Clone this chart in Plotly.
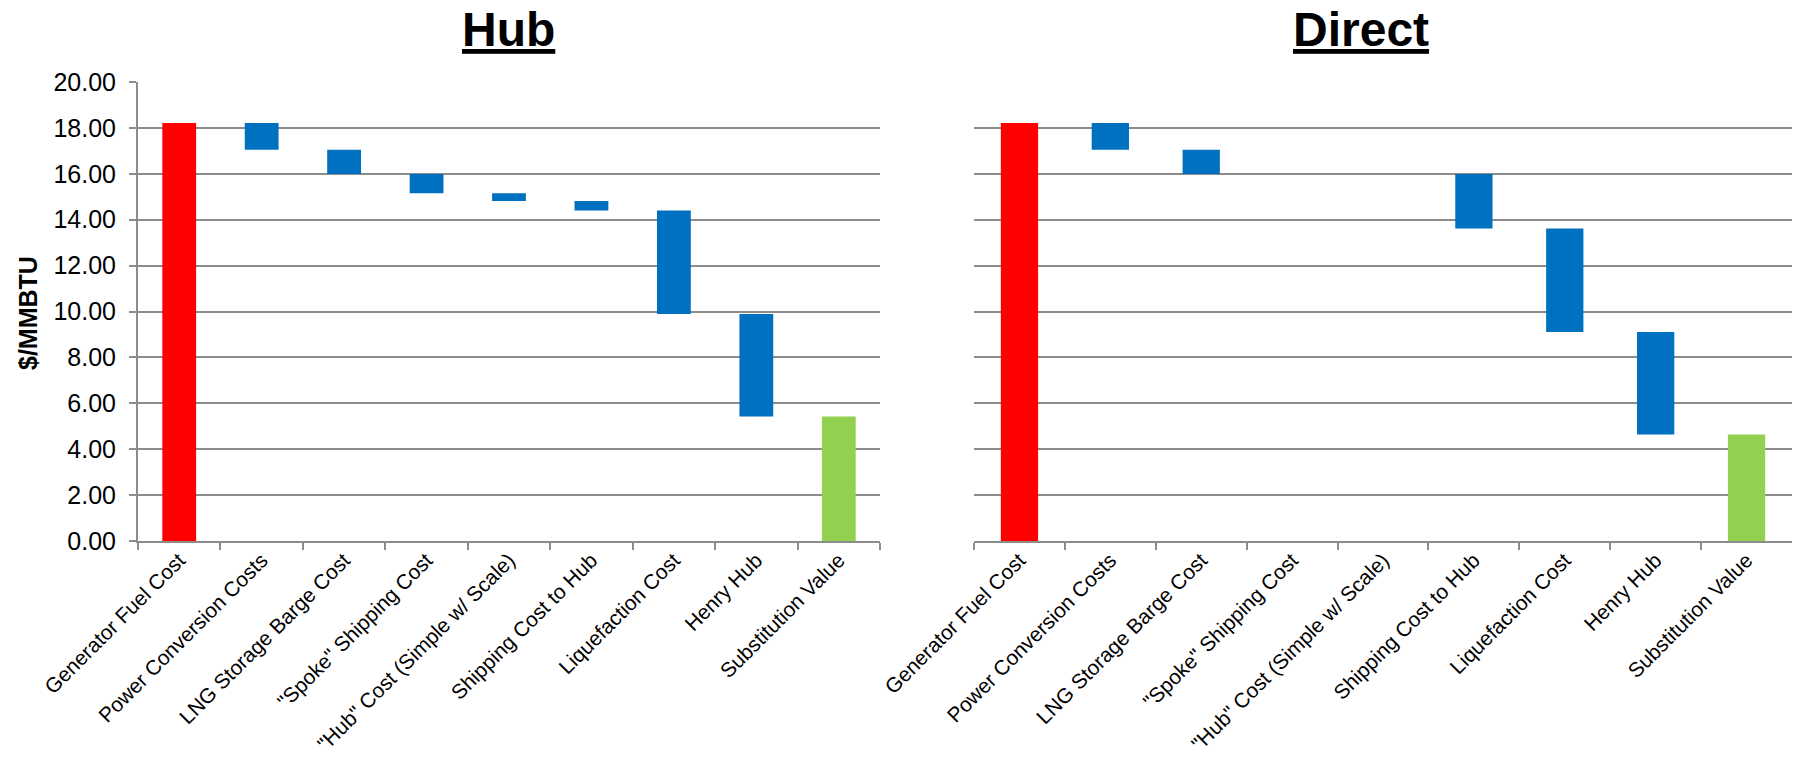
import plotly.graph_objects as go

categories = [
    "Generator Fuel Cost",
    "Power Conversion Costs",
    "LNG Storage Barge Cost",
    "\"Spoke\" Shipping Cost",
    "\"Hub\" Cost (Simple w/ Scale)",
    "Shipping Cost to Hub",
    "Liquefaction Cost",
    "Henry Hub",
    "Substitution Value",
]
# first = starting total, middle = step changes, last = ending total
hub_values = [18.21, -1.16, -1.06, -0.84, -0.33, -0.42, -4.51, -4.47, 5.42]
direct_values = [18.21, -1.16, -1.06, 0.0, 0.0, -2.37, -4.51, -4.47, 4.64]
measures = ["absolute", "relative", "relative", "relative", "relative",
            "relative", "relative", "relative", "total"]
y_ticks = [0, 2, 4, 6, 8, 10, 12, 14, 16, 18, 20]
y_tick_labels = [f"{v:.2f}" for v in y_ticks]

RED = "#FF0000"
BLUE = "#0070C0"
GREEN = "#92D050"
GRID = "#8C8C8C"
FONT = "Liberation Sans, Arial, sans-serif"

W, H = 1798, 762


def floating(values):
    bases, heights, colors = [], [], []
    running = 0.0
    for v, m in zip(values, measures):
        if m == "absolute":
            bases.append(0.0); heights.append(v); colors.append(RED); running = v
        elif m == "total":
            bases.append(0.0); heights.append(v); colors.append(GREEN)
        else:
            bases.append(running + v); heights.append(-v); colors.append(BLUE)
            running += v
    return bases, heights, colors


fig = go.Figure()
for vals, xa, ya in [(hub_values, "x", "y"), (direct_values, "x2", "y2")]:
    b, h, c = floating(vals)
    fig.add_trace(go.Bar(x=categories, y=h, base=b, marker=dict(color=c, line=dict(width=0)),
                         width=0.41, xaxis=xa, yaxis=ya, showlegend=False, hoverinfo="skip"))

ydom = [(H - 541) / H, (H - 82) / H]
xdom1 = [138 / W, 880 / W]
xdom2 = [974 / W, 1792 / W]

xcommon = dict(type="category", showline=True, linecolor=GRID, linewidth=2,
               ticks="outside", tickson="boundaries", ticklen=7, tickcolor=GRID, tickwidth=2,
               tickangle=-45, tickfont=dict(family=FONT, size=20.8, color="#000000"),
               ticklabelstandoff=-3,
               showgrid=False, zeroline=False, fixedrange=True)
ycommon = dict(range=[0, 20], tickvals=y_ticks, showgrid=True, gridcolor=GRID, gridwidth=2,
               zeroline=False, fixedrange=True, domain=ydom)

fig.update_layout(
    width=W, height=H,
    margin=dict(l=0, r=0, t=0, b=0, autoexpand=False),
    paper_bgcolor="white", plot_bgcolor="white",
    barmode="overlay",
    xaxis=dict(domain=xdom1, anchor="y", **xcommon),
    xaxis2=dict(domain=xdom2, anchor="y2", **xcommon),
    yaxis=dict(anchor="x", showline=True, linecolor=GRID, linewidth=2, ticks="outside",
               ticklen=7, tickcolor=GRID, tickwidth=2, ticktext=y_tick_labels,
               tickfont=dict(family=FONT, size=25, color="#000000"), ticklabelstandoff=8,
               **ycommon),
    yaxis2=dict(anchor="x2", showline=False, ticks="", showticklabels=False, **ycommon),
    annotations=[
        dict(text="<b><u>Hub</u></b>", x=508 / W, y=(H - 29) / H, xref="paper", yref="paper",
             showarrow=False, font=dict(family=FONT, size=48, color="#000000"),
             xanchor="center", yanchor="middle"),
        dict(text="<b><u>Direct</u></b>", x=1361 / W, y=(H - 29) / H, xref="paper", yref="paper",
             showarrow=False, font=dict(family=FONT, size=48, color="#000000"),
             xanchor="center", yanchor="middle"),
        dict(text="<b>$/MMBTU</b>", x=28 / W, y=(H - 313) / H, xref="paper", yref="paper",
             showarrow=False, textangle=-90, font=dict(family=FONT, size=25, color="#000000"),
             xanchor="center", yanchor="middle"),
    ],
)

fig.write_html(
    "out.html",
    config={"displayModeBar": False},
    post_script="document.body.style.margin='0px';document.body.style.overflow='hidden';",
)
